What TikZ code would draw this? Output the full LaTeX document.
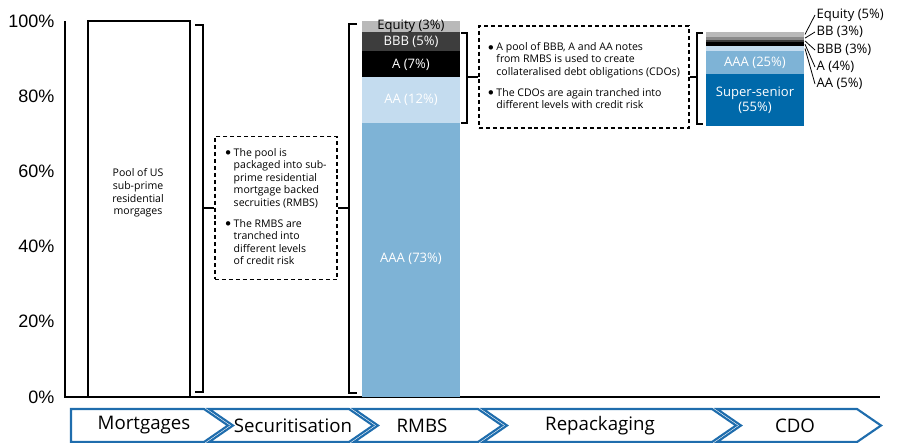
\documentclass[tikz,border=0pt]{standalone}
\usepackage{fontspec}
\setmainfont{Open Sans}
\newfontfamily\axisfont{Liberation Sans}
\usetikzlibrary{calc}

\definecolor{eqgrey}{HTML}{B9B9B9}
\definecolor{bbgrey}{HTML}{8A8A8A}
\definecolor{bbbgrey}{HTML}{3D3D3D}
\definecolor{aablue}{HTML}{C4DCEF}
\definecolor{aaablue}{HTML}{7EB3D6}
\definecolor{ssblue}{HTML}{0069AA}
\definecolor{chevblue}{HTML}{1F6DAD}

\newcommand{\notebul}{\raisebox{0.3pt}{$\bullet$}}

\tikzset{
  axislbl/.style={anchor=east,inner sep=1pt,font=\axisfont\fontsize{13.5}{15}\selectfont},
  lbl/.style={inner sep=1pt,font=\fontsize{9.8}{11.5}\selectfont},
  wlbl/.style={lbl,text=white},
  brk/.style={line width=0.8pt},
  note/.style={draw,line width=0.8pt,dash pattern=on 3pt off 2.2pt,inner sep=0pt,
               font=\fontsize{7.9}{9.4}\selectfont},
  chev/.style={draw=chevblue,line width=1.6pt,line join=miter},
  chevlbl/.style={font=\fontsize{14}{16}\selectfont}
}

\begin{document}
\begin{tikzpicture}[x=0.75pt,y=-0.75pt]
\useasboundingbox (0,0) rectangle (901,443);

% axes
\draw[line width=0.8pt] (65,21) -- (65,397) -- (880,397);
\foreach \p/\y in {100/21,80/96.2,60/171.4,40/246.6,20/321.8,0/397}
  \node[axislbl] (ax\p) at (56,\y) {\p\%};

% pool of mortgages
\node[draw,line width=0.8pt,minimum width=76.5pt,minimum height=282pt,inner sep=0pt] (mortbox) at (139,209) {};
\node[lbl,align=center,font=\fontsize{7.9}{9.4}\selectfont] (morttxt) at (138,193)
  {Pool of US\\sub-prime\\residential\\morgages};

% securitisation note
\draw[brk] (195,25) -- (203,25) -- (203,392) -- (195,392);
\coordinate (b1) at (203,208);
\node[note,minimum width=91.5pt,minimum height=107pt] (pkgbox) at (276,208) {%
  \begin{tabular}{@{}l@{\hspace{2pt}}l@{}}
  \notebul & The pool is\\
   & packaged into sub-\\
   & prime residential\\
   & mortgage backed\\
   & secruities (RMBS)\\[6pt]
  \notebul & The RMBS are\\
   & tranched into\\
   & different levels\\
   & of credit risk
  \end{tabular}};
\draw[brk] (b1) -- (pkgbox.west);
\draw[brk] (357,24) -- (349,24) -- (349,393) -- (357,393);
\coordinate (b2) at (349,208);
\draw[brk] (pkgbox.east) -- (b2);

% RMBS tranches
\fill[aaablue] (362,397) rectangle (460,122.5);
\fill[aablue] (362,122.5) rectangle (460,77.4);
\fill[black] (362,77.4) rectangle (460,51.1);
\fill[bbbgrey] (362,51.1) rectangle (460,32.3);
\fill[eqgrey] (362,32.3) rectangle (460,21);
\node[wlbl] (raaa) at (411,259) {AAA (73\%)};
\node[wlbl] (raa) at (411,100) {AA (12\%)};
\node[wlbl] (ra) at (411,64.5) {A (7\%)};
\node[wlbl] (rbbb) at (411,42) {BBB (5\%)};
\node[lbl] (req) at (411,26.5) {Equity (3\%)};

% repackaging note
\draw[brk] (461,33) -- (467,33) -- (467,123) -- (461,123);
\coordinate (b3) at (467,77);
\node[note,minimum width=157.5pt,minimum height=76.5pt] (cdobox) at (584,77) {%
  \begin{tabular}{@{}l@{\hspace{2pt}}l@{}}
  \notebul & A pool of BBB, A and AA notes\\
   & from RMBS is used to create\\
   & collateralised debt obligations (CDOs)\\[6pt]
  \notebul & The CDOs are again tranched into\\
   & different levels with credit risk
  \end{tabular}};
\draw[brk] (b3) -- (cdobox.west);
\draw[brk] (703,33) -- (697,33) -- (697,124) -- (703,124);
\coordinate (b4) at (697,77);
\draw[brk] (cdobox.east) -- (b4);

% CDO tranches
\fill[ssblue] (706,126) rectangle (804,74.3);
\fill[aaablue] (706,74.3) rectangle (804,50.8);
\fill[aablue] (706,50.8) rectangle (804,46.1);
\fill[black] (706,46.1) rectangle (804,42.3);
\fill[bbbgrey] (706,42.3) rectangle (804,39.5);
\fill[bbgrey] (706,39.5) rectangle (804,36.7);
\fill[eqgrey] (706,36.7) rectangle (804,32);
\node[wlbl] (caaa) at (755,62.5) {AAA (25\%)};
\node[wlbl,align=center] (css) at (755,100) {Super-senior\\(55\%)};

\coordinate (ceq) at (805,34.4);
\coordinate (cbb) at (805,38.1);
\coordinate (cbbb) at (805,40.9);
\coordinate (ca) at (805,44.2);
\coordinate (caa) at (805,48.5);
\node[lbl,anchor=west] (leq) at (815,15) {Equity (5\%)};
\node[lbl,anchor=west] (lbb) at (815,32) {BB (3\%)};
\node[lbl,anchor=west] (lbbb) at (815,50) {BBB (3\%)};
\node[lbl,anchor=west] (la) at (815,67) {A (4\%)};
\node[lbl,anchor=west] (laa) at (815,84) {AA (5\%)};
\draw[line width=0.6pt] (ceq) -- (leq.west);
\draw[line width=0.6pt] (cbb) -- (lbb.west);
\draw[line width=0.6pt] (cbbb) -- (lbbb.west);
\draw[line width=0.6pt] (ca) -- (la.west);
\draw[line width=0.6pt] (caa) -- (laa.west);

% process chevrons
\draw[chev] (71,409) -- (204,409) -- (228,425.5) -- (204,442) -- (71,442) -- cycle;
\draw[chev] (209,409) -- (349,409) -- (373,425.5) -- (349,442) -- (209,442) -- (233,425.5) -- cycle;
\draw[chev] (354,409) -- (478,409) -- (502,425.5) -- (478,442) -- (354,442) -- (378,425.5) -- cycle;
\draw[chev] (483,409) -- (712,409) -- (736,425.5) -- (712,442) -- (483,442) -- (507,425.5) -- cycle;
\draw[chev] (717,409) -- (857,409) -- (881,425.5) -- (857,442) -- (717,442) -- (741,425.5) -- cycle;
\node[chevlbl] (smort) at (144,425.5) {Mortgages};
\node[chevlbl] (ssec) at (293,425.5) {Securitisation};
\node[chevlbl] (srmbs) at (422,425.5) {RMBS};
\node[chevlbl] (srep) at (600,425.5) {Repackaging};
\node[chevlbl] (scdo) at (795,425.5) {CDO};
\end{tikzpicture}
\end{document}
